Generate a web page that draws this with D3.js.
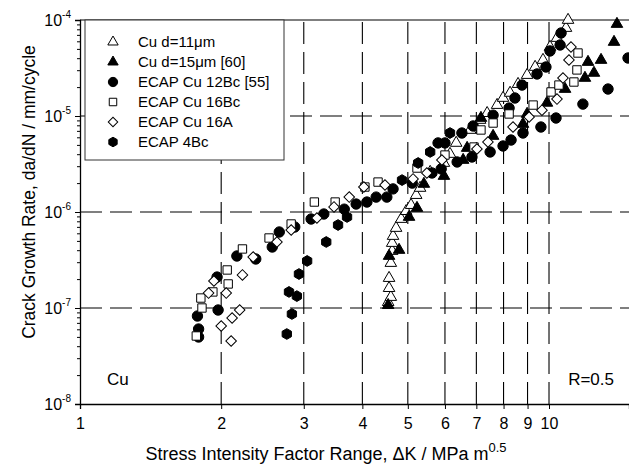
<!DOCTYPE html>
<html>
<head>
<meta charset="utf-8">
<script src="https://cdn.jsdelivr.net/npm/d3@7"></script>
<style>
  body { margin: 0; background: #fff; }
  text { font-family: Arial, "Liberation Sans", sans-serif; fill: #000; }
</style>
</head>
<body>
<svg id="chart" width="629" height="470"></svg>
<script>
// series: [ΔK (MPa m^0.5), da/dN (mm/cycle)]
const cu11 = [
  [4.54, 1.15e-7], [4.60, 1.30e-7], [4.56, 1.61e-7], [4.56, 2.05e-7], [4.60, 2.94e-7],
  [4.63, 3.92e-7], [4.63, 4.75e-7], [4.65, 5.62e-7], [4.72, 6.81e-7], [4.84, 8.45e-7],
  [4.96, 1.02e-6], [5.08, 1.18e-6], [5.21, 1.50e-6], [5.31, 1.78e-6], [5.58, 2.61e-6],
  [5.97, 3.24e-6], [6.15, 4.02e-6], [6.34, 5.24e-6], [6.79, 7.15e-6], [7.13, 9.09e-6],
  [7.38, 1.07e-5], [7.75, 1.30e-5], [7.98, 1.54e-5], [8.26, 1.74e-5], [8.59, 2.15e-5],
  [8.98, 2.67e-5], [9.34, 3.24e-5], [9.71, 3.83e-5], [10.05, 5.23e-5], [10.40, 6.49e-5],
  [10.87, 8.25e-5], [10.98, 1.0e-4]
];
const cu15 = [
  [4.54, 1.07e-7], [4.56, 3.48e-7], [4.79, 4.02e-7], [5.03, 8.87e-7], [5.23, 1.10e-6],
  [5.41, 1.96e-6], [5.97, 2.37e-6], [6.56, 3.48e-6], [6.69, 4.64e-6], [7.16, 9.53e-6],
  [7.60, 6.19e-6], [8.80, 8.25e-6], [8.98, 1.05e-5], [9.90, 1.37e-5], [10.82, 1.91e-5],
  [11.93, 2.49e-5], [12.47, 2.81e-5], [12.11, 3.65e-5], [12.91, 3.83e-5], [13.76, 5.90e-5],
  [13.96, 9.08e-5]
];
const ecap12Bc = [
  [1.78, 8.25e-8], [1.79, 6.04e-8], [1.79, 4.99e-8], [1.97, 9.53e-8], [1.96, 2.10e-7],
  [2.16, 3.48e-7], [2.37, 3.24e-7], [2.57, 4.32e-7], [2.66, 6.19e-7], [2.87, 6.98e-7],
  [3.11, 8.45e-7], [3.31, 9.53e-7], [3.66, 1.07e-6], [3.88, 1.21e-6], [4.09, 1.27e-6],
  [4.28, 1.43e-6], [4.51, 1.43e-6], [4.65, 1.74e-6], [5.11, 2.00e-6], [5.63, 2.55e-6],
  [5.89, 2.81e-6], [6.37, 3.32e-6], [6.85, 3.74e-6], [7.49, 4.22e-6], [7.98, 4.87e-6],
  [8.30, 5.62e-6], [8.80, 6.65e-6], [9.61, 7.68e-6], [10.35, 9.53e-6], [11.81, 1.33e-5],
  [13.36, 1.91e-5], [14.74, 4.02e-5],
  [5.80, 5.24e-6], [6.00, 5.24e-6], [6.52, 6.65e-6], [6.89, 7.87e-6], [7.60, 1.02e-5],
  [8.22, 1.21e-5], [8.46, 1.54e-5], [8.76, 2.10e-5], [9.43, 2.74e-5], [9.85, 3.24e-5],
  [10.05, 4.76e-5], [10.56, 5.49e-5], [10.61, 7.32e-5]
];
const ecap16Bc = [
  [1.77, 5.11e-8], [1.82, 1.0e-7], [1.81, 1.27e-7], [1.92, 1.47e-7], [2.07, 1.78e-7],
  [2.06, 2.49e-7], [2.22, 4.12e-7], [2.53, 5.36e-7], [2.82, 7.50e-7], [3.16, 1.27e-6],
  [3.50, 1.27e-6], [4.05, 1.82e-6], [4.32, 2.05e-6], [5.23, 2.87e-6], [6.00, 3.92e-6],
  [6.92, 4.75e-6], [7.16, 7.15e-6], [7.60, 8.45e-6], [8.22, 1.05e-5], [9.25, 1.30e-5],
  [10.10, 1.78e-5], [10.50, 2.10e-5], [11.30, 2.26e-5], [11.47, 3.02e-5], [11.53, 4.53e-5]
];
const ecap16A = [
  [1.88, 1.43e-7], [1.93, 1.91e-7], [2.00, 6.49e-8], [2.05, 1.43e-7], [2.10, 4.53e-8],
  [2.11, 7.87e-8], [2.19, 9.53e-8], [2.22, 2.21e-7], [2.34, 3.40e-7], [2.63, 4.87e-7],
  [2.82, 6.49e-7], [3.20, 8.66e-7], [3.48, 1.13e-6], [3.75, 1.43e-6], [4.03, 1.82e-6],
  [4.47, 1.91e-6], [5.13, 2.21e-6], [5.49, 2.55e-6], [5.91, 3.48e-6], [7.02, 4.53e-6],
  [7.41, 5.36e-6], [8.38, 7.68e-6], [9.07, 9.76e-6], [9.66, 1.15e-5], [10.40, 1.50e-5],
  [10.71, 2.49e-5], [11.03, 3.83e-5], [11.14, 5.23e-5]
];
const ecap4Bc = [
  [2.76, 5.36e-8], [2.83, 8.66e-8], [2.90, 1.33e-7], [2.79, 1.47e-7], [2.93, 2.26e-7],
  [3.05, 3.09e-7], [3.35, 4.87e-7], [3.55, 7.32e-7], [3.71, 8.87e-7], [4.86, 2.15e-6],
  [5.26, 3.24e-6], [5.58, 4.22e-6], [6.15, 6.65e-6]
];

const legendLabels = ["Cu d=11\u03bcm", "Cu d=15\u03bcm [60]", "ECAP Cu 12Bc [55]",
  "ECAP Cu 16Bc", "ECAP Cu 16A", "ECAP 4Bc"];
const xTicks = [1, 2, 3, 4, 5, 6, 7, 8, 9, 10];
const yDecades = [-8, -7, -6, -5, -4];

const svg = d3.select("#chart");
const x = d3.scaleLog().domain([1, 14.81]).range([80, 629]);
const y = d3.scaleLog().domain([1e-8, 1e-4]).range([404, 20]);

// hexagon symbol
const hexagon = {
  draw(ctx, size) {
    const r = Math.sqrt(size * 2 / (3 * Math.sqrt(3)));
    for (let i = 0; i < 6; i++) {
      const a = Math.PI / 3 * i + Math.PI / 6;
      i ? ctx.lineTo(r * Math.cos(a), r * Math.sin(a)) : ctx.moveTo(r * Math.cos(a), r * Math.sin(a));
    }
    ctx.closePath();
  }
};

const styles = [
  { data: cu11, type: d3.symbolTriangle, size: 58, fill: "#fff", rot: 0 },
  { data: cu15, type: d3.symbolTriangle, size: 58, fill: "#000", rot: 0 },
  { data: ecap12Bc, type: d3.symbolCircle, size: 85, fill: "#000", rot: 0 },
  { data: ecap16Bc, type: d3.symbolSquare, size: 70, fill: "#fff", rot: 0 },
  { data: ecap16A, type: d3.symbolSquare, size: 56, fill: "#fff", rot: 45 },
  { data: ecap4Bc, type: hexagon, size: 75, fill: "#000", rot: 0 }
];

// grid
const grid = svg.append("g").attr("stroke", "#000").attr("stroke-width", 1.1)
  .attr("stroke-dasharray", "22,8");
grid.selectAll("line.v").data(xTicks.slice(1)).enter().append("line")
  .attr("x1", d => x(d)).attr("x2", d => x(d))
  .attr("y1", y(1e-8)).attr("y2", y(1e-4));
grid.selectAll("line.h").data([1e-7, 1e-6, 1e-5]).enter().append("line")
  .attr("x1", x(1)).attr("x2", 629)
  .attr("y1", d => y(d)).attr("y2", d => y(d));

// top frame line
svg.append("line").attr("x1", x(1)).attr("x2", 629).attr("y1", y(1e-4)).attr("y2", y(1e-4))
  .attr("stroke", "#555").attr("stroke-width", 1.5);

// axes
const yAxis = svg.append("g").attr("transform", `translate(${x(1)},0)`)
  .call(d3.axisLeft(y).tickValues(yDecades.map(e => Math.pow(10, e))).tickSize(5).tickFormat(""));
const minors = [];
yDecades.slice(0, -1).forEach(e => { for (let k = 2; k < 10; k++) minors.push(k * Math.pow(10, e)); });
svg.append("g").attr("transform", `translate(${x(1)},0)`)
  .call(d3.axisLeft(y).tickValues(minors).tickSize(3).tickFormat(""))
  .call(g => g.select(".domain").remove());

const xAxis = svg.append("g").attr("transform", `translate(0,${y(1e-8)})`)
  .call(d3.axisBottom(x).tickValues(xTicks).tickSize(5).tickFormat(d3.format("d")));
xAxis.selectAll("text").attr("font-size", 16).attr("dy", "1.05em")
  .attr("font-family", "Arial, 'Liberation Sans', sans-serif");
[yAxis, xAxis].forEach(g => {
  g.select(".domain").attr("stroke", "#000").attr("stroke-width", 1.3);
});

// y tick labels with superscript
yDecades.forEach(e => {
  const t = svg.append("text").attr("x", 71).attr("y", y(Math.pow(10, e)) + 6)
    .attr("text-anchor", "end").attr("font-size", 16);
  t.append("tspan").text("10");
  t.append("tspan").attr("font-size", 10).attr("dy", -8).text(e);
});

// points
styles.forEach(s => {
  svg.append("g").selectAll("path").data(s.data).enter().append("path")
    .attr("d", d3.symbol().type(s.type).size(s.size))
    .attr("transform", d => `translate(${x(d[0])},${y(d[1])}) rotate(${s.rot})`)
    .attr("fill", s.fill).attr("stroke", "#000").attr("stroke-width", 1);
});

// legend
const legend = svg.append("g");
legend.append("rect").attr("x", 85).attr("y", 20).attr("width", 199).attr("height", 140)
  .attr("fill", "#fff").attr("stroke", "#333").attr("stroke-width", 1);
legendLabels.forEach((label, i) => {
  const s = styles[i];
  const ly = 42 + i * 20;
  legend.append("path")
    .attr("d", d3.symbol().type(s.type).size(s.size * 0.8))
    .attr("transform", `translate(113,${ly}) rotate(${s.rot})`)
    .attr("fill", s.fill).attr("stroke", "#000").attr("stroke-width", 1);
  legend.append("text").attr("x", 138).attr("y", ly + 5).attr("font-size", 15).text(label);
});

// annotations
svg.append("text").attr("x", 107).attr("y", 385).attr("font-size", 17).text("Cu");
svg.append("text").attr("x", 614).attr("y", 385).attr("font-size", 17)
  .attr("text-anchor", "end").text("R=0.5");

// axis titles
const xt = svg.append("text").attr("x", 326).attr("y", 460).attr("text-anchor", "middle")
  .attr("font-size", 18);
xt.append("tspan").text("Stress Intensity Factor Range, \u0394K / MPa m");
xt.append("tspan").attr("font-size", 13).attr("dy", -8).text("0.5");

svg.append("text").attr("transform", "translate(35,192) rotate(-90)")
  .attr("text-anchor", "middle").attr("font-size", 17.5)
  .text("Crack Growth Rate, da/dN / mm/cycle");
</script>
</body>
</html>
